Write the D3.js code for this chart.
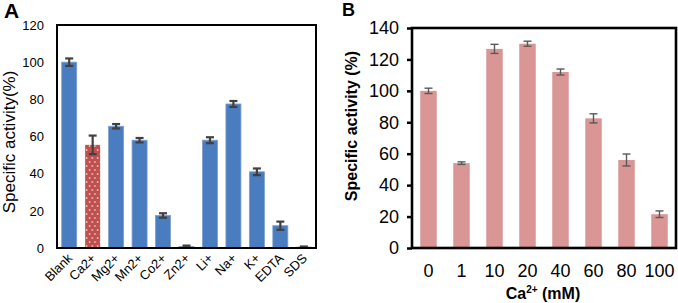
<!DOCTYPE html>
<html>
<head>
    <script src="https://d3js.org/d3.v7.min.js"></script>
    <style>
        body { margin: 0; background: #fff; }
        text { font-family: Arial, "Liberation Sans", sans-serif; }
    </style>
</head>
<body>
    <div id="chart"></div>
    <script>
        // panel A : effect of ions
        const ionNames = ["Blank", "Ca2+", "Mg2+", "Mn2+", "Co2+", "Zn2+", "Li+", "Na+", "K+", "EDTA", "SDS"];
        const ionActivity = [100, 55.5, 65.5, 58, 17.5, 0.8, 58, 77.5, 41, 12, 0.5];
        const ionError = [2, 5, 1.2, 1.2, 1.2, 0.5, 1.6, 1.6, 1.8, 2.2, 0.3];
        const ticksA = [0, 20, 40, 60, 80, 100, 120];

        // panel B : Ca2+ concentration
        const caLevels = ["0", "1", "10", "20", "40", "60", "80", "100"];
        const caActivity = [100, 54, 126.7, 130, 112, 82.5, 56, 21.5];
        const caError = [1.7, 0.8, 2.9, 1.6, 1.9, 2.9, 3.8, 2.1];
        const ticksB = [0, 20, 40, 60, 80, 100, 120, 140];

        const svg = d3.select("#chart")
            .append("svg")
            .attr("width", 678)
            .attr("height", 303);

        // dotted fill for the Ca2+ bar
        const pat = svg.append("defs").append("pattern")
            .attr("id", "dots")
            .attr("patternUnits", "userSpaceOnUse")
            .attr("width", 5.5)
            .attr("height", 8);
        pat.append("rect").attr("width", 5.5).attr("height", 8).attr("fill", "#c0504d");
        pat.append("circle").attr("cx", 1.5).attr("cy", 2).attr("r", 0.8).attr("fill", "#fff");
        pat.append("circle").attr("cx", 4.2).attr("cy", 6).attr("r", 0.8).attr("fill", "#fff");

        // ---------- Panel A ----------
        const xA = d3.scaleBand()
            .domain(ionNames)
            .range([57, 316])
            .paddingInner(0.36)
            .paddingOuter(0.2);
        const yA = d3.scaleLinear()
            .domain([0, 120])
            .range([248, 25]);

        const gA = svg.append("g");

        gA.selectAll(".barA")
            .data(ionNames)
            .join("rect")
            .attr("x", d => xA(d))
            .attr("width", xA.bandwidth())
            .attr("y", (d, i) => yA(ionActivity[i]))
            .attr("height", (d, i) => yA(0) - yA(ionActivity[i]))
            .attr("fill", d => d == "Ca2+" ? "url(#dots)" : "#4a7dbf")
            .attr("stroke", d => d == "Ca2+" ? "none" : "#7a9fd0")
            .attr("stroke-width", 0.8);

        const errA = gA.selectAll(".errA")
            .data(ionNames)
            .join("g")
            .attr("stroke", "#404040")
            .attr("stroke-width", 2.2);
        errA.append("line")
            .attr("x1", d => xA(d) + xA.bandwidth() / 2)
            .attr("x2", d => xA(d) + xA.bandwidth() / 2)
            .attr("y1", (d, i) => yA(ionActivity[i] + ionError[i]))
            .attr("y2", (d, i) => yA(ionActivity[i] - ionError[i]));
        errA.append("line")
            .attr("x1", d => xA(d) + xA.bandwidth() / 2 - 4)
            .attr("x2", d => xA(d) + xA.bandwidth() / 2 + 4)
            .attr("y1", (d, i) => yA(ionActivity[i] + ionError[i]))
            .attr("y2", (d, i) => yA(ionActivity[i] + ionError[i]));
        errA.append("line")
            .attr("x1", d => xA(d) + xA.bandwidth() / 2 - 4)
            .attr("x2", d => xA(d) + xA.bandwidth() / 2 + 4)
            .attr("y1", (d, i) => yA(ionActivity[i] - ionError[i]))
            .attr("y2", (d, i) => yA(ionActivity[i] - ionError[i]));

        // frame
        gA.append("rect")
            .attr("x", 57).attr("y", 25)
            .attr("width", 259).attr("height", 223)
            .attr("fill", "none")
            .attr("stroke", "#000")
            .attr("stroke-width", 2);

        // y axis labels
        const axA = gA.append("g")
            .attr("transform", "translate(57,0)")
            .call(d3.axisLeft(yA).tickValues(ticksA).tickSize(0).tickPadding(13));
        axA.select(".domain").remove();
        axA.selectAll("text").attr("font-size", 13).attr("fill", "#000").attr("font-family", "Arial, 'Liberation Sans'");

        // x labels rotated
        gA.selectAll(".xlabA")
            .data(ionNames)
            .join("text")
            .attr("transform", d => "translate(" + (xA(d) + xA.bandwidth() / 2 + 4) + ",259) rotate(-45)")
            .attr("text-anchor", "end")
            .attr("font-size", 13)
            .text(d => d);

        gA.append("text")
            .attr("transform", "translate(15,142) rotate(-90)")
            .attr("text-anchor", "middle")
            .attr("font-size", 17)
            .text("Specific activity(%)");

        gA.append("text")
            .attr("x", 4).attr("y", 18)
            .attr("font-size", 21)
            .attr("font-weight", "bold")
            .text("A");

        // ---------- Panel B ----------
        const xB = d3.scaleBand()
            .domain(caLevels)
            .range([412, 676])
            .paddingInner(0.5)
            .paddingOuter(0.25);
        const yB = d3.scaleLinear()
            .domain([0, 140])
            .range([248, 28]);

        const gB = svg.append("g");

        gB.selectAll(".barB")
            .data(caLevels)
            .join("rect")
            .attr("x", d => xB(d))
            .attr("width", xB.bandwidth())
            .attr("y", (d, i) => yB(caActivity[i]))
            .attr("height", (d, i) => yB(0) - yB(caActivity[i]))
            .attr("fill", "#d99694");

        const errB = gB.selectAll(".errB")
            .data(caLevels)
            .join("g")
            .attr("stroke", "#595959")
            .attr("stroke-width", 1.4);
        errB.append("line")
            .attr("x1", d => xB(d) + xB.bandwidth() / 2)
            .attr("x2", d => xB(d) + xB.bandwidth() / 2)
            .attr("y1", (d, i) => yB(caActivity[i] + caError[i]))
            .attr("y2", (d, i) => yB(caActivity[i] - caError[i]));
        errB.append("line")
            .attr("x1", d => xB(d) + xB.bandwidth() / 2 - 4)
            .attr("x2", d => xB(d) + xB.bandwidth() / 2 + 4)
            .attr("y1", (d, i) => yB(caActivity[i] + caError[i]))
            .attr("y2", (d, i) => yB(caActivity[i] + caError[i]));
        errB.append("line")
            .attr("x1", d => xB(d) + xB.bandwidth() / 2 - 4)
            .attr("x2", d => xB(d) + xB.bandwidth() / 2 + 4)
            .attr("y1", (d, i) => yB(caActivity[i] - caError[i]))
            .attr("y2", (d, i) => yB(caActivity[i] - caError[i]));

        gB.append("rect")
            .attr("x", 412).attr("y", 28)
            .attr("width", 264).attr("height", 220)
            .attr("fill", "none")
            .attr("stroke", "#000")
            .attr("stroke-width", 2.6);

        const axB = gB.append("g")
            .attr("transform", "translate(412,0)")
            .call(d3.axisLeft(yB).tickValues(ticksB).tickSize(5).tickPadding(8));
        axB.select(".domain").remove();
        axB.selectAll("line").attr("stroke", "#000").attr("stroke-width", 2.5);
        axB.selectAll("text").attr("font-size", 18).attr("fill", "#000").attr("font-family", "Arial, 'Liberation Sans'");

        gB.selectAll(".xlabB")
            .data(caLevels)
            .join("text")
            .attr("x", d => xB(d) + xB.bandwidth() / 2)
            .attr("y", 277)
            .attr("text-anchor", "middle")
            .attr("font-size", 18)
            .text(d => d);

        const xt = gB.append("text")
            .attr("x", 543).attr("y", 299)
            .attr("text-anchor", "middle")
            .attr("font-size", 16)
            .attr("font-weight", "bold");
        xt.append("tspan").text("Ca");
        xt.append("tspan").attr("font-size", 10).attr("dy", -6).text("2+");
        xt.append("tspan").attr("dy", 6).text(" (mM)");

        gB.append("text")
            .attr("transform", "translate(357,126) rotate(-90)")
            .attr("text-anchor", "middle")
            .attr("font-size", 16)
            .attr("font-weight", "bold")
            .text("Specific activity (%)");

        gB.append("text")
            .attr("x", 342).attr("y", 16)
            .attr("font-size", 18)
            .attr("font-weight", "bold")
            .text("B");
    </script>
</body>
</html>
